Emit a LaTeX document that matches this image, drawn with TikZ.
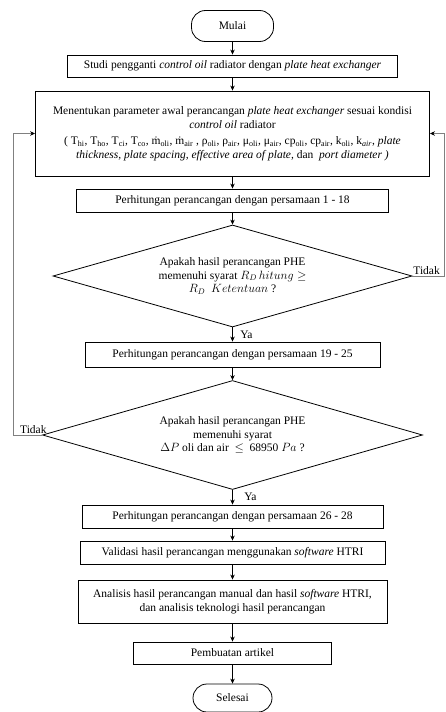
\documentclass[tikz,border=0pt]{standalone}
\usepackage{amsmath}
\usepackage{amssymb}
\usepackage{fontspec}
\setmainfont{Liberation Serif}
\usepackage{tikz}
\usetikzlibrary{shapes.geometric,arrows.meta}
\tikzstyle{terminal} = [rectangle, rounded corners=14pt, minimum width=82pt, minimum height=31pt, text centered, draw=black, line width=0.8pt]
\tikzstyle{process} = [rectangle, minimum height=22pt, inner sep=2pt, text centered, align=center, draw=black, line width=0.9pt]
\tikzstyle{decision} = [diamond, aspect=3.5, inner sep=0pt, align=center, draw=black, line width=0.8pt]
\tikzstyle{arrow} = [line width=0.6pt, -{Stealth[length=5pt,width=4.5pt]}]
\tikzstyle{balik} = [draw=gray, line width=0.6pt, -{Stealth[length=5pt,width=4.5pt,color=black]}]
\tikzstyle{ket} = [inner sep=1.5pt, font=\fontsize{11.5pt}{13.5pt}\selectfont]

\begin{document}
\begin{tikzpicture}[x=1pt, y=-1pt, font=\fontsize{11.5pt}{13.5pt}\selectfont]
\useasboundingbox (0,0) rectangle (445,712);

\node(start) [terminal] at (232.5,26) {Mulai};
\node(studi) [process, minimum width=330pt, below of = start, node distance=40pt] {Studi pengganti \textit{control oil} radiator dengan \textit{plate heat exchanger}};
\node(param) [process, minimum width=394pt, minimum height=85pt, below of = studi, node distance=67.5pt] {Menentukan parameter awal perancangan \textit{plate heat exchanger} sesuai kondisi\\ \textit{control oil} radiator\\[3pt]
( T\textsubscript{hi}, T\textsubscript{ho}, T\textsubscript{ci}, T\textsubscript{co}, ṁ\textsubscript{oli}, ṁ\textsubscript{air} , ρ\textsubscript{oli}, ρ\textsubscript{air}, μ\textsubscript{oli}, μ\textsubscript{air}, cp\textsubscript{oli}, cp\textsubscript{air}, k\textsubscript{oli}, k\textsubscript{\textit{air}}, \textit{plate}\\ \textit{thickness, plate spacing, effective area of plate,} dan \ \textit{port diameter )}};
\node(hitung1) [process, minimum width=312pt, minimum height=23pt, below of = param, node distance=67pt] {Perhitungan perancangan dengan persamaan 1 - 18};
\node(cekRD) [decision, minimum width=359pt, minimum height=102pt, below of = hitung1, node distance=75.5pt] {Apakah hasil perancangan PHE\\ memenuhi syarat $R_D\,hitung \geq$\\ $R_D\ \ Ketentuan$ ?};
\node(hitung2) [process, minimum width=295pt, minimum height=25pt, below of = cekRD, node distance=78.5pt] {Perhitungan perancangan dengan persamaan 19 - 25};
\node(cekDP) [decision, minimum width=380pt, minimum height=109pt, below of = hitung2, node distance=80.5pt] {Apakah hasil perancangan PHE\\ memenuhi syarat\\ $\Delta P$ oli dan air \ $\leq$ \ 68950 $Pa$ ?};
\node(hitung3) [process, minimum width=301pt, minimum height=23pt, below of = cekDP, node distance=81.5pt] {Perhitungan perancangan dengan persamaan 26 - 28};
\node(validasi) [process, minimum width=305pt, minimum height=23pt, below of = hitung3, node distance=36pt] {Validasi hasil perancangan menggunakan \textit{software} HTRI};
\node(analisis) [process, minimum width=309pt, minimum height=43pt, below of = validasi, node distance=49pt] {Analisis hasil perancangan manual dan hasil \textit{software} HTRI,\\ dan analisis teknologi hasil perancangan};
\node(artikel) [process, minimum width=198pt, below of = analisis, node distance=51.5pt] {Pembuatan artikel};
\node(selesai) [terminal, minimum width=79pt, minimum height=28pt, below of = artikel, node distance=45pt] {Selesai};

\coordinate (kiri) at (13,0);
\coordinate (kanan) at (444,0);

\draw [arrow] (start) -- (studi);
\draw [arrow] (studi) -- (param);
\draw [arrow] (param) -- (hitung1);
\draw [arrow] (hitung1) -- (cekRD);
\draw [arrow] (cekRD) -- node[ket, right, xshift=6pt] {Ya} (hitung2);
\draw [arrow] (hitung2) -- (cekDP);
\draw [arrow] (cekDP) -- node[ket, right, xshift=10pt] {Ya} (hitung3);
\draw [arrow] (hitung3) -- (validasi);
\draw [arrow] (validasi) -- (analisis);
\draw [arrow] (analisis) -- (artikel);
\draw [arrow] (artikel) -- (selesai);

\draw [balik] (cekRD.east) -- node[ket, above, pos=0.45] {Tidak} (cekRD.east -| kanan) |- (param.east);
\draw [balik] (cekDP.west) -- node[ket, above, pos=0.3] {Tidak} (cekDP.west -| kiri) |- (param.west);

\end{tikzpicture}
\end{document}
